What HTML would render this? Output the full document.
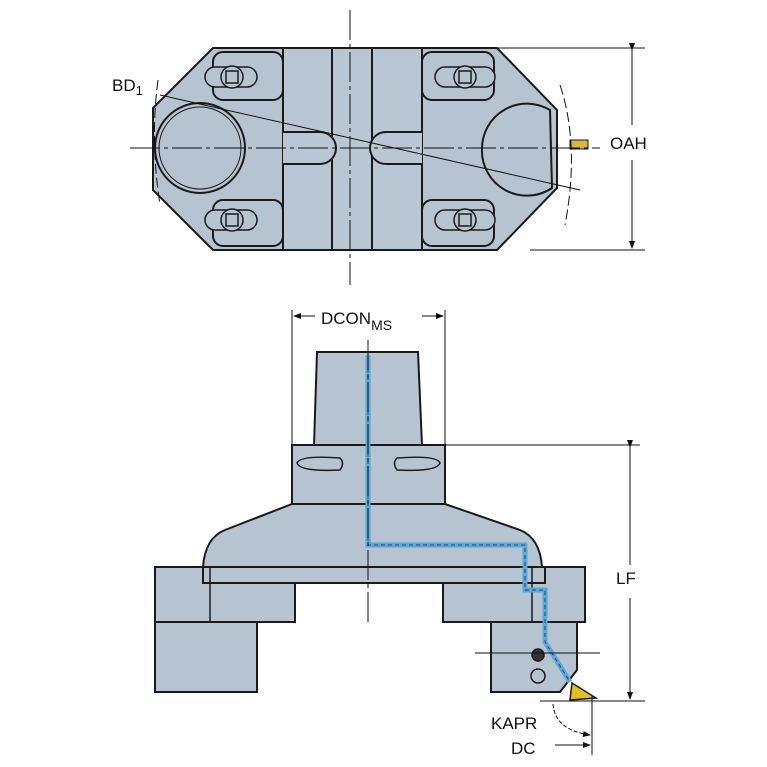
<!DOCTYPE html>
<html><head><style>
html,body{margin:0;padding:0;background:#fff}
svg{display:block}
text{font-family:"Liberation Sans",sans-serif;fill:#111}
</style></head><body>
<svg width="767" height="767" viewBox="0 0 767 767" xmlns="http://www.w3.org/2000/svg">
<defs>
<marker id="ar" markerWidth="8" markerHeight="8" refX="7" refY="4" orient="auto"><path d="M0,1 L8,4 L0,7 z" fill="#111"/></marker>
</defs>
<g stroke="#1a1a1a" stroke-width="2" fill="#b6c3d1">
<!-- TOP VIEW -->
<path d="M213,48 L497,48 L557,110 L557,188 L497,250 L213,250 L153,190 L153,108 Z"/>
<rect x="283" y="48" width="139" height="202" fill="#b9c6d3"/>
<line x1="332" y1="48" x2="332" y2="250"/>
<line x1="372" y1="48" x2="372" y2="250"/>
<rect x="213" y="52" width="70" height="48" rx="10"/>
<rect x="213" y="200" width="70" height="46" rx="10"/>
<rect x="422" y="52" width="72" height="48" rx="10"/>
<rect x="422" y="200" width="72" height="46" rx="10"/>
<circle cx="200" cy="148" r="45"/>
<circle cx="200" cy="148" r="41" fill="none" stroke-width="1"/>
<path d="M482,148 A45,45 0 0 1 550,110 L552,188 A45,45 0 0 1 482,148 Z"/>
<path d="M283,132 L320,132 A14,14 0 0 1 320,164 L283,164" fill="#b9c6d3"/>
<path d="M422,132 L386,132 A14,14 0 0 0 386,164 L422,164" fill="#b9c6d3"/>
<g stroke-width="1.5">
<rect x="205" y="67" width="52" height="20" rx="10"/><circle cx="232" cy="77" r="11"/><rect x="226" y="71" width="12" height="12"/>
<rect x="205" y="210" width="52" height="20" rx="10"/><circle cx="232" cy="220" r="11"/><rect x="226" y="214" width="12" height="12"/>
<rect x="435" y="67" width="60" height="20" rx="10"/><circle cx="465" cy="77" r="11"/><rect x="459" y="71" width="12" height="12"/>
<rect x="435" y="210" width="60" height="20" rx="10"/><circle cx="465" cy="220" r="11"/><rect x="459" y="214" width="12" height="12"/>
</g>
<rect x="570" y="140" width="18" height="9" fill="#d8b640" stroke-width="1"/>
</g>
<g stroke="#111" stroke-width="1" fill="none">
<line x1="130" y1="148" x2="600" y2="148" stroke-dasharray="30,4,4,4"/>
<line x1="350" y1="10" x2="350" y2="285" stroke-dasharray="30,4,4,4"/>
<line x1="160" y1="95" x2="580" y2="190"/>
<line x1="497" y1="48" x2="645" y2="48"/>
<line x1="530" y1="250" x2="645" y2="250"/>
<line x1="632" y1="50" x2="632" y2="125" marker-start="url(#ar)"/>
<line x1="632" y1="160" x2="632" y2="248" marker-end="url(#ar)"/>
<path d="M158,80 Q150,140 160,205" stroke-dasharray="10,4"/>
<path d="M560,85 Q580,145 565,225" stroke-dasharray="10,4"/>
</g>
<text x="112" y="91" font-size="17">BD<tspan font-size="13" dy="4">1</tspan></text>
<text x="610" y="149" font-size="17">OAH</text>

<!-- BOTTOM VIEW -->
<g stroke="#1a1a1a" stroke-width="2" fill="#b6c3d1">
<path d="M317,352 L418,352 L422,445 L314,445 Z"/>
<rect x="292" y="445" width="153" height="59"/>
<path d="M292,504 L445,504 L520,530 Q540,538 542,567 L203,567 Q205,538 225,530 Z"/>
<rect x="155" y="567" width="140" height="55"/>
<rect x="443" y="567" width="142" height="55"/>
<rect x="203" y="567" width="342" height="16"/>
<rect x="155" y="622" width="102" height="70"/>
<path d="M491,622 L577,622 L577,670 L560,692 L491,692 Z"/>
<g stroke-width="1.5">
<path d="M297,463 Q300,455 340,458 Q345,463 340,470 Q300,472 297,463 Z"/>
<path d="M440,463 Q437,455 397,458 Q392,463 397,470 Q437,472 440,463 Z"/>
<circle cx="538" cy="655" r="6" fill="#333"/>
<circle cx="538" cy="676" r="7" fill="none"/>
<line x1="210" y1="567" x2="210" y2="622"/>
<line x1="532" y1="567" x2="532" y2="622"/>
</g>
<path d="M572,683 L596,698 L570,700 Z" fill="#e2c020" stroke-width="1.5"/>
</g>
<path d="M368,355 L368,545 L525,545 L525,590 L545,590 L545,642 L570,682" fill="none" stroke="#5aa8d8" stroke-width="5"/>
<path d="M368,355 L368,545 L525,545 L525,590 L545,590 L545,642 L570,682" fill="none" stroke="#2a4a6a" stroke-width="1" stroke-dasharray="4,3"/>
<g stroke="#111" stroke-width="1" fill="none">
<line x1="368" y1="340" x2="368" y2="625" stroke-dasharray="30,4,4,4"/>
<line x1="292" y1="310" x2="292" y2="445"/>
<line x1="445" y1="310" x2="445" y2="445"/>
<line x1="315" y1="316" x2="294" y2="316" marker-end="url(#ar)"/>
<line x1="422" y1="316" x2="443" y2="316" marker-end="url(#ar)"/>
<line x1="445" y1="445" x2="640" y2="445"/>
<line x1="540" y1="701" x2="645" y2="701"/>
<line x1="630" y1="447" x2="630" y2="565" marker-start="url(#ar)"/>
<line x1="630" y1="598" x2="630" y2="699" marker-end="url(#ar)"/>
<line x1="592" y1="695" x2="592" y2="755"/>
<line x1="555" y1="745" x2="590" y2="745" marker-end="url(#ar)"/>
<path d="M553,704 Q555,730 590,735" stroke-dasharray="4,2" marker-end="url(#ar)"/>
<line x1="475" y1="653" x2="600" y2="653"/>
</g>
<text x="321" y="324" font-size="17">DCON<tspan font-size="14" dy="6">MS</tspan></text>
<text x="616" y="584" font-size="17">LF</text>
<text x="491" y="729" font-size="17">KAPR</text>
<text x="511" y="754" font-size="17">DC</text>
</svg>
</body></html>
